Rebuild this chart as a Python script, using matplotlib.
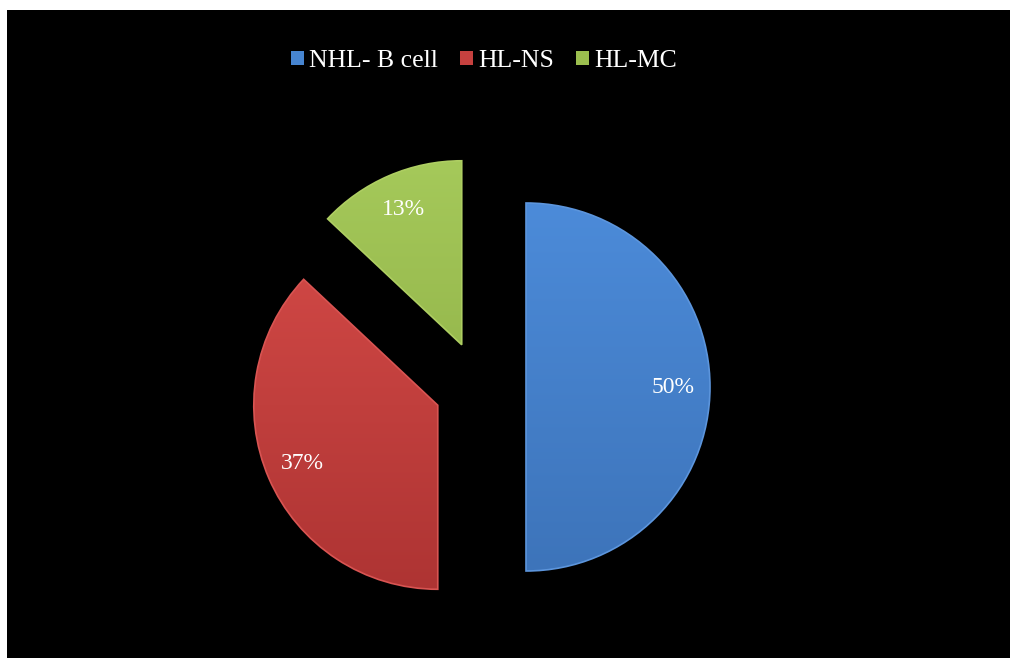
import numpy as np
import matplotlib.pyplot as plt
from matplotlib.colors import LinearSegmentedColormap
from matplotlib.patches import Rectangle, Wedge

labels = ['NHL- B cell', 'HL-NS', 'HL-MC']
shares = [50, 37, 13]
colors = ['#4785D1', '#C6413F', '#9BBE4E']
tops = ['#4C8BD9', '#D44A47', '#A5C95A']
bottoms = ['#3D74BA', '#AE3433', '#8AAA42']
edges = ['#5C95DC', '#D85452', '#AECE62']

plt.rcParams['font.family'] = ['Liberation Serif', 'DejaVu Serif']

fig = plt.figure(figsize=(10.10, 6.58), dpi=100, facecolor='white')
# black chart area with a thin white margin at top and left
fig.patches.append(Rectangle((7 / 1010, 0), 1, 1 - 10 / 658, transform=fig.transFigure,
                             facecolor='black', edgecolor='none', zorder=-5))

ax = fig.add_axes([0, 0, 1, 1])
ax.set_facecolor('none')

r_px = 184.0
cx, cy = 480.0, 658 - 387.0
wedges, texts, autotexts = ax.pie(
    shares, explode=[0.25, 0.25, 0.25], colors=colors, startangle=90,
    counterclock=False, radius=1, autopct='%1.0f%%', pctdistance=0.8,
    wedgeprops={'linewidth': 0},
    textprops={'color': 'white', 'fontsize': 17, 'zorder': 5})

# vertical shading inside each slice, lighter at the top
grad = np.linspace(0, 1, 256).reshape(-1, 1)
for w, top, bot, ec in zip(wedges, tops, bottoms, edges):
    cmap = LinearSegmentedColormap.from_list('shade', [bot, top])
    xc, yc = w.center
    im = ax.imshow(grad, cmap=cmap, origin='lower', aspect='auto',
                   extent=(xc - 1, xc + 1, yc - 1, yc + 1), zorder=2)
    im.set_clip_path(w)
    ax.add_patch(Wedge(w.center, w.r, w.theta1, w.theta2, fill=False,
                       edgecolor=ec, linewidth=1.2, zorder=3))

ax.set_xlim(-cx / r_px, (1010 - cx) / r_px)
ax.set_ylim(-cy / r_px, (658 - cy) / r_px)
ax.set_aspect('equal')
ax.axis('off')

leg = fig.legend(wedges, labels, loc='center', bbox_to_anchor=(484 / 1010, 1 - 61 / 658),
                 ncol=3, frameon=False, fontsize=18.5, handlelength=0.5, handleheight=0.5,
                 handletextpad=0.2, columnspacing=0.85)
for t in leg.get_texts():
    t.set_color('white')

fig.savefig('out.png', dpi=100, facecolor=fig.get_facecolor())
